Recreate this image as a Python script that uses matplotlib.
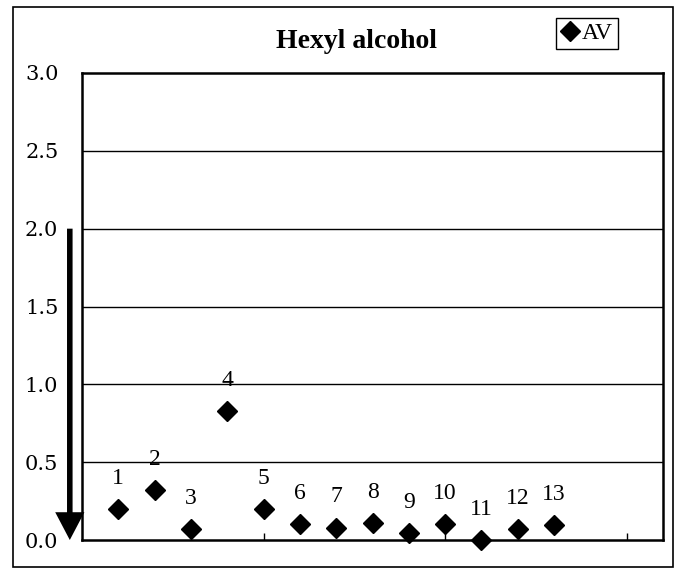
import matplotlib
matplotlib.use("Agg")
import matplotlib.pyplot as plt
from matplotlib.patches import Rectangle
import matplotlib.transforms as mtransforms

# data
samples = [1, 2, 3, 4, 5, 6, 7, 8, 9, 10, 11, 12, 13]
av = [0.20, 0.32, 0.07, 0.83, 0.20, 0.10, 0.08, 0.11, 0.045, 0.10, 0.0, 0.07, 0.095]
point_labels = ["1", "2", "3", "4", "5", "6", "7", "8", "9", "10", "11", "12", "13"]
yticks = [0.0, 0.5, 1.0, 1.5, 2.0, 2.5, 3.0]
ytick_labels = ["0.0", "0.5", "1.0", "1.5", "2.0", "2.5", "3.0"]
xticks = [5, 10, 15]

W, H = 682, 568
fig = plt.figure(figsize=(W / 100, H / 100), dpi=100)
fig.patch.set_facecolor("white")

# outer frame
fig.patches.append(Rectangle((13 / W, 1 - 567 / H), (673 - 13) / W, (567 - 7) / H,
                             transform=fig.transFigure, fill=False,
                             edgecolor="black", linewidth=1.2))

ax = fig.add_axes([82 / W, 1 - 540 / H, (663 - 82) / W, (540 - 73) / H])
ax.set_xlim(0, 16)
ax.set_ylim(0, 3.0)
ax.set_yticks(yticks)
ax.set_yticklabels(ytick_labels, family="DejaVu Serif", fontsize=15)
ax.set_xticks(xticks)
ax.set_xticklabels([])
ax.tick_params(axis="y", length=0, pad=17)
ax.tick_params(axis="x", direction="in", length=5, width=1, color="black")
for s in ax.spines.values():
    s.set_linewidth(1.8)
    s.set_color("black")
for y in yticks[1:-1]:
    ax.axhline(y, color="black", linewidth=1.0, zorder=1)

ax.plot(samples, av, linestyle="none", marker="D", markersize=10,
        color="black", clip_on=False, zorder=3, label="AV")

for x, y, t in zip(samples, av, point_labels):
    ax.annotate(t, (x, y), xytext=(0, 22), textcoords="offset points",
                ha="center", va="center", family="Liberation Serif", fontsize=17)

# arrow to the left of the axis
trans = mtransforms.blended_transform_factory(ax.transAxes, ax.transData)
ax.annotate("", xy=(-0.021, 0.0), xytext=(-0.021, 2.0), xycoords=trans, textcoords=trans,
            annotation_clip=False,
            arrowprops=dict(arrowstyle="simple,head_length=2.0,head_width=2.1,tail_width=0.4",
                            facecolor="black", edgecolor="none", linewidth=0,
                            mutation_scale=10, shrinkA=0, shrinkB=0))

fig.text(356 / W, 1 - 48 / H, "Hexyl alcohol", ha="center", va="baseline",
         family="Liberation Serif", fontweight="bold", fontsize=20)

leg = ax.legend(loc="center", bbox_to_anchor=(587 / W, 1 - 33.5 / H),
                bbox_transform=fig.transFigure, frameon=True, fancybox=False,
                edgecolor="black", framealpha=1, handlelength=0.8, handletextpad=0.1,
                borderpad=0.2, borderaxespad=0, prop={"family": "Liberation Serif", "size": 17},
                markerscale=1.0)
leg.get_frame().set_linewidth(1.0)

fig.savefig("out.png", dpi=100)
